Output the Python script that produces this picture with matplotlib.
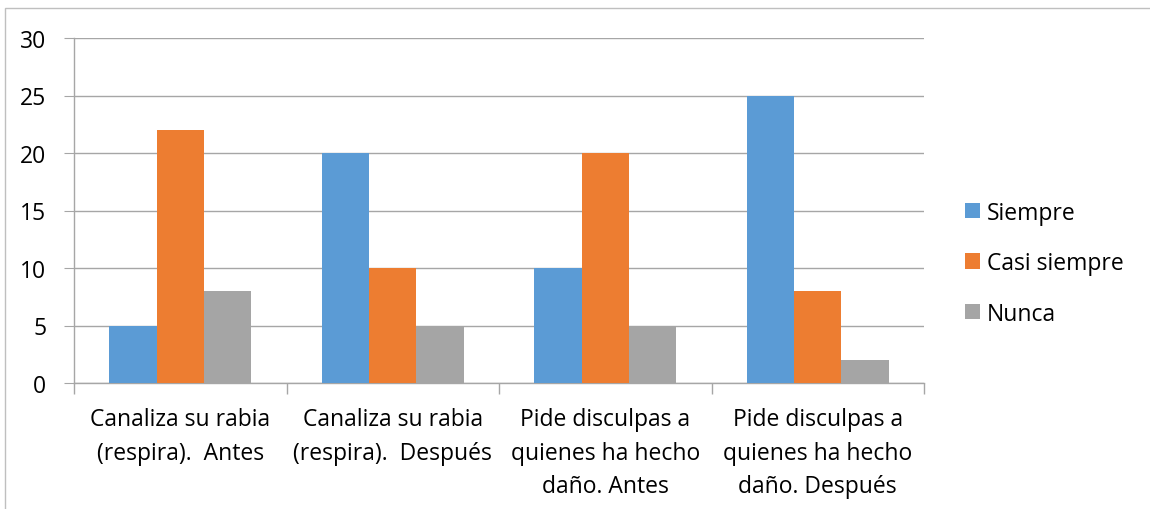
import numpy as np
import matplotlib.pyplot as plt
from matplotlib.patches import Rectangle, Patch

plt.rcParams['font.family'] = ['Open Sans', 'DejaVu Sans']

# Data
categories = [
    "Canaliza su rabia\n(respira).  Antes",
    "Canaliza su rabia\n(respira).  Después",
    "Pide disculpas a\nquienes ha hecho\ndaño. Antes",
    "Pide disculpas a\nquienes ha hecho\ndaño. Después",
]
series_names = ["Siempre", "Casi siempre", "Nunca"]
siempre = [5, 20, 10, 25]
casi_siempre = [22, 10, 20, 8]
nunca = [8, 5, 5, 2]
yticks = [0, 5, 10, 15, 20, 25, 30]

colors = ['#5B9BD5', '#ED7D31', '#A5A5A5']
grid_col = '#A6A6A6'
fs = 16.5

fig = plt.figure(figsize=(11.5, 5.1), dpi=100)
ax = fig.add_axes([74 / 1150, 1 - 384 / 510, 850 / 1150, 345 / 510])

x = np.arange(len(categories))
w = 0.222
for i, (vals, name) in enumerate(zip([siempre, casi_siempre, nunca], series_names)):
    ax.bar(x + (i - 1) * w, vals, width=w, color=colors[i], label=name, zorder=3)

ax.set_xlim(-0.5, len(categories) - 0.5)
ax.set_ylim(0, 30)
ax.set_yticks(yticks)
ax.yaxis.grid(True, color=grid_col, lw=1, zorder=0)
ax.tick_params(axis='y', length=7, color=grid_col, pad=13, labelsize=fs)

ax.set_xticks(x)
ax.set_xticklabels(categories, fontsize=fs, linespacing=1.55)
ax.set_xticks(np.arange(-0.5, len(categories)), minor=True)
ax.tick_params(axis='x', which='major', length=0, pad=17)
ax.tick_params(axis='x', which='minor', length=8, color=grid_col, width=1)

for s in ['top', 'right']:
    ax.spines[s].set_visible(False)
for s in ['left', 'bottom']:
    ax.spines[s].set_color(grid_col)
    ax.spines[s].set_linewidth(1)

# outer chart border
fig.patches.append(Rectangle((5 / 1150, -0.1), 1.2, 1.1 - 9 / 510,
                             transform=fig.transFigure, fill=False,
                             edgecolor='#BFBFBF', lw=1))

handles = [Patch(facecolor=c, label=n) for c, n in zip(colors, series_names)]
fig.legend(handles=handles, loc='center left', bbox_to_anchor=(0.8215, 0.482),
           frameon=False, fontsize=fs, handlelength=0.65, handleheight=0.65,
           handletextpad=0.3, labelspacing=1.15)

fig.savefig('out.png', dpi=100)
